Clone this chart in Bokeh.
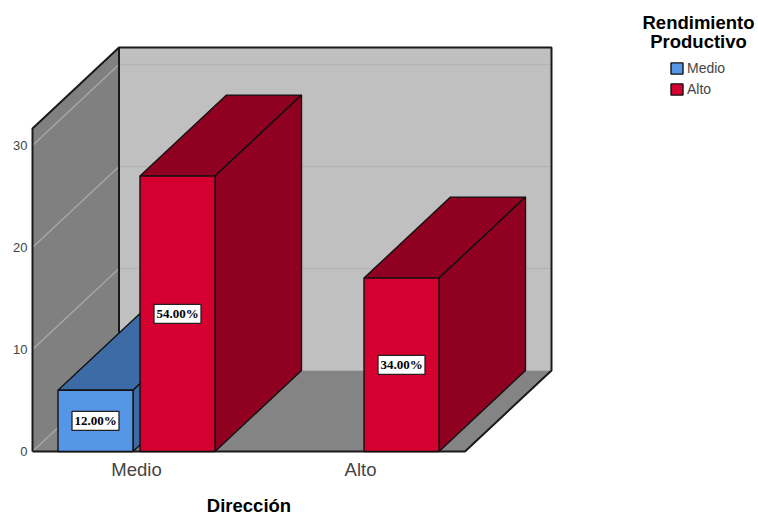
from bokeh.core.properties import value
from bokeh.embed import file_html
from bokeh.models import ColumnDataSource, FixedTicker, Label, Legend, LegendItem, LinearAxis, Range1d
from bokeh.plotting import figure
from bokeh.resources import INLINE

# Survey results: share of respondents per Dirección level and Rendimiento Productivo level
categories = ["Medio", "Alto"]
series_names = ["Medio", "Alto"]
category_index = [0, 0, 1]
series_index = [0, 1, 1]
counts = [6, 27, 17]
percent_labels = ["12.00%", "54.00%", "34.00%"]
y_ticks = [0, 10, 20, 30]

# Colours per series: front face, shaded faces
front_colors = ["#5596E6", "#D60030"]
shade_colors = ["#3D6BA6", "#900020"]

# Canvas size and the scale of each axis in pixels per unit
WIDTH, HEIGHT = 758, 515
PX_PER_X, PX_PER_Y = 224, 10.2
ORIGIN_X, ORIGIN_Y = 136, 451

# Oblique projection of the box, expressed in axis units
DEPTH_X = 86.5 / PX_PER_X
DEPTH_Y = 81 / PX_PER_Y
OFFSET = 41 / PX_PER_X
HALF_BAR = 37.5 / PX_PER_X
X_MIN, X_MAX = -104 / PX_PER_X, 415 / PX_PER_X
Y_MAX = 404 / PX_PER_Y
FLOOR_X_MAX = X_MAX - DEPTH_X

# The frame fills the page so that titles and legend can sit beside the box
p = figure(
    width=WIDTH, height=HEIGHT, output_backend="svg", toolbar_location=None,
    x_range=Range1d(-ORIGIN_X / PX_PER_X, (WIDTH - ORIGIN_X) / PX_PER_X),
    y_range=Range1d(-(HEIGHT - ORIGIN_Y) / PX_PER_Y, ORIGIN_Y / PX_PER_Y),
    x_axis_type=None, y_axis_type=None,
    min_border=0, outline_line_color=None, background_fill_color="white",
)
p.grid.visible = False

# Box walls
wall_top = Y_MAX
side_top = Y_MAX - DEPTH_Y
back_left = X_MIN + DEPTH_X
p.patch([X_MIN, X_MIN, back_left, back_left], [0, side_top, wall_top, DEPTH_Y],
        fill_color="#808080", line_color=None)
p.patch([back_left, X_MAX, X_MAX, back_left], [DEPTH_Y, DEPTH_Y, wall_top, wall_top],
        fill_color="#C0C0C0", line_color=None)
p.patch([X_MIN, FLOOR_X_MAX, X_MAX, back_left], [0, 0, DEPTH_Y, DEPTH_Y],
        fill_color="#848484", line_color=None)

# Gridlines run across the side wall and then the back wall
for t in y_ticks:
    p.line([X_MIN, back_left], [t, t + DEPTH_Y], line_color="#A6A6A6", line_width=1.5)
    if t > 0:
        p.line([back_left, X_MAX], [t + DEPTH_Y, t + DEPTH_Y], line_color="#B4B4B4", line_width=1.5)

# Box outline
p.line([X_MIN, X_MIN, back_left, X_MAX, X_MAX, FLOOR_X_MAX, X_MIN],
       [0, side_top, wall_top, wall_top, DEPTH_Y, 0, 0], line_color="#1A1A1A", line_width=2)
p.line([back_left, back_left], [DEPTH_Y, wall_top], line_color="#1A1A1A", line_width=2)

# Bars
front_renderers = {}
label_x, label_y = [], []
for cat, ser, count in zip(category_index, series_index, counts):
    center = cat + (2 * ser - 1) * OFFSET
    left, right = center - HALF_BAR, center + HALF_BAR
    p.patch([left, right, right + DEPTH_X, left + DEPTH_X],
            [count, count, count + DEPTH_Y, count + DEPTH_Y],
            fill_color=shade_colors[ser], line_color="#111111", line_width=1.4)
    p.patch([right, right + DEPTH_X, right + DEPTH_X, right],
            [0, DEPTH_Y, count + DEPTH_Y, count],
            fill_color=shade_colors[ser], line_color="#111111", line_width=1.4)
    front = p.quad(left=left, right=right, bottom=0, top=count,
                   fill_color=front_colors[ser], line_color="#111111", line_width=1.4)
    front_renderers[ser] = front
    label_x.append(center)
    label_y.append(count / 2)

# Value labels in white boxes
label_source = ColumnDataSource(dict(x=label_x, y=label_y, text=percent_labels))
p.rect(x="x", y="y", width=47, height=19, width_units="screen", height_units="screen",
       source=label_source, fill_color="white", line_color="#222222", line_width=1.3)
p.text(x="x", y="y", text="text", source=label_source, text_align="center", text_baseline="middle",
       text_font=value("Liberation Serif"), text_font_style="bold", text_font_size="13px",
       text_color="black")

# Axes pinned to the edges of the box
y_axis = LinearAxis(ticker=FixedTicker(ticks=y_ticks), fixed_location=X_MIN,
                    axis_line_color=None, major_tick_line_color=None, minor_tick_line_color=None,
                    major_tick_out=0, major_label_standoff=5,
                    major_label_text_font="Liberation Sans", major_label_text_font_size="13px",
                    major_label_text_color="#444444")
x_axis = LinearAxis(ticker=FixedTicker(ticks=list(range(len(categories)))), fixed_location=0,
                    major_label_overrides={i: c for i, c in enumerate(categories)},
                    axis_line_color=None, major_tick_line_color=None, minor_tick_line_color=None,
                    major_tick_out=0, major_label_standoff=7,
                    major_label_text_font="Liberation Sans", major_label_text_font_size="18.5px",
                    major_label_text_color="#444444")
p.add_layout(y_axis, "left")
p.add_layout(x_axis, "below")

# Axis and legend titles
def caption(x, y, text, size):
    p.add_layout(Label(x=x, y=HEIGHT - y, x_units="screen", y_units="screen",
                       text=text, text_align="center", text_baseline="middle", text_color="black",
                       text_font="Liberation Sans", text_font_style="bold", text_font_size=size))

caption(248.5, 504.5, "Dirección", "18.5px")
caption(698, 22, "Rendimiento", "18.5px")
caption(698, 41, "Productivo", "18.5px")

legend = Legend(
    items=[LegendItem(label=name, renderers=[front_renderers[i]]) for i, name in enumerate(series_names)],
    location=(669, HEIGHT - 97), orientation="vertical",
    padding=0, margin=0, spacing=5, glyph_width=15, glyph_height=14, label_standoff=3,
    label_text_font="Liberation Sans", label_text_font_size="14px", label_text_color="#444444",
    label_height=14, border_line_color=None, background_fill_alpha=0,
)
p.add_layout(legend, "center")

open("out.html", "w").write(file_html(p, INLINE))
